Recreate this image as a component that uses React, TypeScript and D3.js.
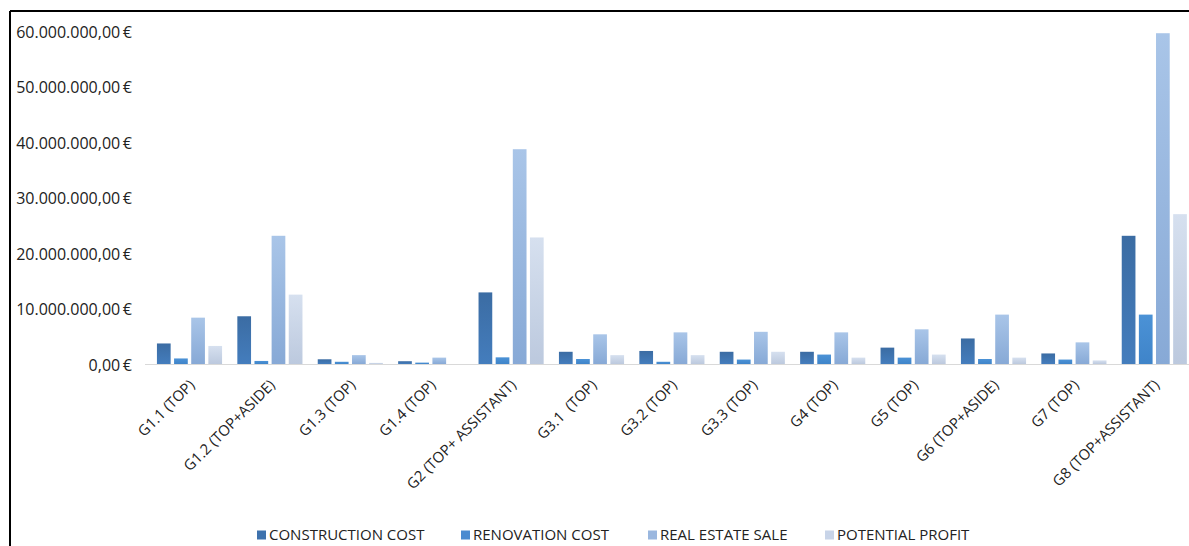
import React from "react";
import * as d3 from "d3";

const categories = [
  "G1.1 (TOP)",
  "G1.2 (TOP+ASIDE)",
  "G1.3 (TOP)",
  "G1.4 (TOP)",
  "G2 (TOP+ ASSISTANT)",
  "G3.1  (TOP)",
  "G3.2 (TOP)",
  "G3.3 (TOP)",
  "G4 (TOP)",
  "G5 (TOP)",
  "G6 (TOP+ASIDE)",
  "G7 (TOP)",
  "G8 (TOP+ASSISTANT)",
];

const seriesNames = ["CONSTRUCTION COST", "RENOVATION COST", "REAL ESTATE SALE", "POTENTIAL PROFIT"];

const constructionCost = [3.7e6, 8.6e6, 0.85e6, 0.5e6, 12.9e6, 2.2e6, 2.35e6, 2.2e6, 2.2e6, 2.95e6, 4.6e6, 1.9e6, 23.1e6];
const renovationCost = [1.0e6, 0.55e6, 0.4e6, 0.25e6, 1.2e6, 0.9e6, 0.4e6, 0.8e6, 1.7e6, 1.15e6, 0.9e6, 0.8e6, 8.9e6];
const realEstateSale = [8.35e6, 23.1e6, 1.6e6, 1.15e6, 38.7e6, 5.35e6, 5.7e6, 5.8e6, 5.7e6, 6.25e6, 8.9e6, 3.9e6, 59.6e6];
const potentialProfit = [3.25e6, 12.5e6, 0.2e6, 0.0, 22.8e6, 1.6e6, 1.6e6, 2.2e6, 1.15e6, 1.7e6, 1.15e6, 0.65e6, 27.0e6];

const yTicks = [0, 10e6, 20e6, 30e6, 40e6, 50e6, 60e6];

const seriesValues = [constructionCost, renovationCost, realEstateSale, potentialProfit];

const gradients = [
  { id: "g0", top: "#3b6ca3", bottom: "#447dbd", legend: "#3e72ad" },
  { id: "g1", top: "#4b92d6", bottom: "#3f84c9", legend: "#4a8bd0" },
  { id: "g2", top: "#a9c5e8", bottom: "#87a9d6", legend: "#9ab7df" },
  { id: "g3", top: "#d6e0ef", bottom: "#bcc9de", legend: "#c8d4e8" },
];

const W = 1189;
const H = 546;
const FONT = "'Open Sans', 'Liberation Sans', sans-serif";

function fmt(v: number) {
  const m = Math.round(v);
  const s = m.toString().replace(/\B(?=(\d{3})+(?!\d))/g, ".");
  return s + ",00\u2009€";
}

export default function App() {
  const y = d3.scaleLinear().domain([0, 60e6]).range([364, 31]);
  const x0 = d3
    .scaleBand<string>()
    .domain(categories)
    .range([149.3, 1194.5])
    .paddingInner(0.19)
    .paddingOuter(0.095);
  const x1 = d3
    .scaleBand<number>()
    .domain([0, 1, 2, 3])
    .range([0, x0.bandwidth()])
    .paddingInner(0.2);

  const legendX = [257, 461, 648, 825];

  return (
    <div style={{ position: "absolute", left: 0, top: 0 }}>
      <svg width={W} height={H} style={{ display: "block", background: "#fff" }}>
        <defs>
          {gradients.map((g) => (
            <linearGradient key={g.id} id={g.id} x1="0" y1="0" x2="0" y2="1">
              <stop offset="0%" stopColor={g.top} />
              <stop offset="100%" stopColor={g.bottom} />
            </linearGradient>
          ))}
        </defs>
        {/* frame */}
        <line x1={10} y1={11} x2={W} y2={11} stroke="#000" strokeWidth={2} />
        <line x1={10} y1={11} x2={10} y2={H} stroke="#000" strokeWidth={2} />

        {/* y labels */}
        {yTicks.map((t) => (
          <text
            key={t}
            x={132}
            y={y(t) + 1}
            dy="0.35em"
            textAnchor="end"
            fontFamily={FONT}
            fontSize={16}
            fill="#222"
          >
            {fmt(t)}
          </text>
        ))}

        {/* baseline */}
        <line x1={145} x2={W} y1={y(0) + 0.5} y2={y(0) + 0.5} stroke="#d9d9d9" strokeWidth={1} />

        {/* bars */}
        {categories.map((c, i) => (
          <g key={c} transform={`translate(${x0(c)},0)`}>
            {seriesValues.map((vals, s) => {
              const v = vals[i];
              const h = y(0) - y(v);
              if (h <= 0) return null;
              return (
                <rect
                  key={s}
                  x={x1(s)}
                  y={y(v)}
                  width={x1.bandwidth()}
                  height={h}
                  fill={`url(#${gradients[s].id})`}
                />
              );
            })}
          </g>
        ))}

        {/* x labels */}
        {categories.map((c) => {
          const cx = (x0(c) as number) + x0.bandwidth() / 2 + 6;
          return (
            <text
              key={c}
              transform={`translate(${cx},386) rotate(-45)`}
              textAnchor="end"
              fontFamily={FONT}
              fontSize={14.8}
              fill="#222"
              style={{ whiteSpace: "pre" }}
            >
              {c}
            </text>
          );
        })}

        {/* legend */}
        {seriesNames.map((n, s) => (
          <g key={n} transform={`translate(${legendX[s]},535)`}>
            <rect x={0} y={-4.5} width={9} height={9} fill={gradients[s].legend} />
            <text x={12} y={5} fontFamily={FONT} fontSize={15} fill="#222">
              {n}
            </text>
          </g>
        ))}
      </svg>
    </div>
  );
}
